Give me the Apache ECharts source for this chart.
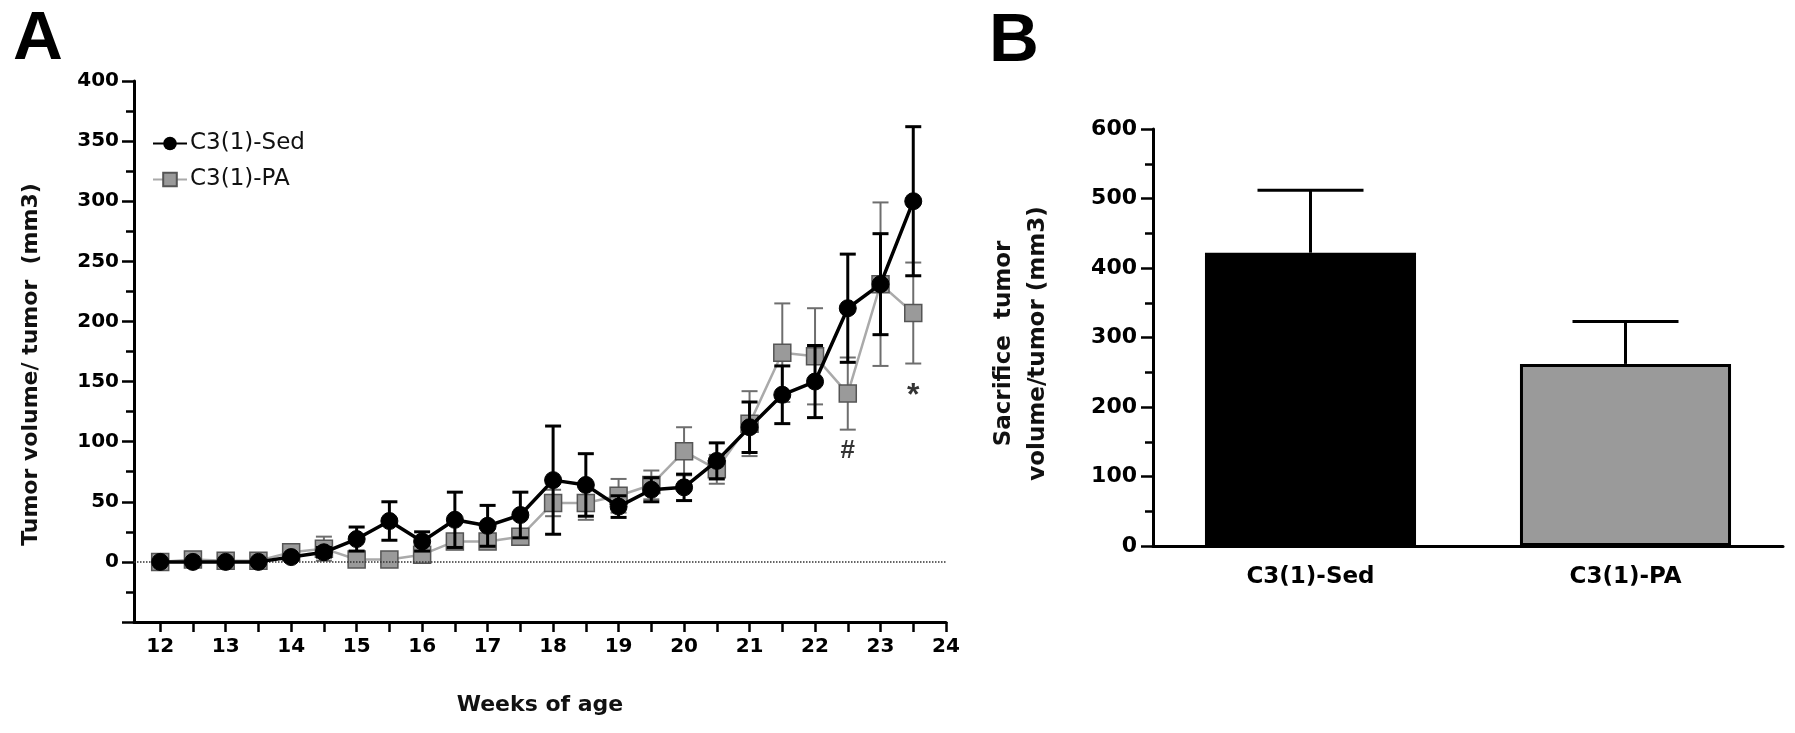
<!DOCTYPE html>
<html>
<head>
<meta charset="utf-8">
<script src="https://cdn.jsdelivr.net/npm/echarts@6/dist/echarts.min.js"></script>
<style>
html,body{margin:0;padding:0;background:#fff;}
#c{width:1795px;height:733px;}
</style>
</head>
<body>
<div id="c"></div>
<script>
// ---- Panel A data ----
var weeks = [12,12.5,13,13.5,14,14.5,15,15.5,16,16.5,17,17.5,18,18.5,19,19.5,20,20.5,21,21.5,22,22.5,23,23.5];
var sedMean = [0,0,0,0,4,8,19,34,17,35,30,39,68,64,46,60,62,84,112,139,150,211,231,300];
var sedSem  = [0,0,0,0,2,4,10,16,8,23,17,19,45,26,9,10,11,15,21,24,30,45,42,62];
var paMean  = [0,2,1,1,8,11,2,2,6,17,17,21,49,49,55,64,92,77,115,174,171,140,231,207];
var paSem   = [0,0,0,0,3,10,0,0,2,5,5,5,11,14,14,12,20,12,27,41,40,30,68,42];
var annWeeks = [22.5, 23.5];
var annVals  = [92, 138];
var annText  = ['#', '*'];
var xTicksA = [12,12.5,13,13.5,14,14.5,15,15.5,16,16.5,17,17.5,18,18.5,19,19.5,20,20.5,21,21.5,22,22.5,23,23.5,24];
var xLabelsA = [12,13,14,15,16,17,18,19,20,21,22,23,24];
// ---- Panel B data ----
var groupsB = ['C3(1)-Sed','C3(1)-PA'];
var barMean = [422, 262];
var barSem  = [90, 61];

var TXT = '"DejaVu Sans", "Liberation Sans", Arial, sans-serif';
var LET = '"Liberation Sans", Arial, sans-serif';

function pairs(xs, ys){ return xs.map(function(x,i){ return [x, ys[i]]; }); }
function triples(xs, ys, es){ return xs.map(function(x,i){ return [x, ys[i], es[i]]; }); }

function errRender(color, width, hw){
  return function(params, api){
    var x = api.value(0), y = api.value(1), e = api.value(2);
    if (!e) return null;
    var t = api.coord([x, y+e]), b = api.coord([x, y-e]);
    var st = {stroke: color, lineWidth: width};
    return {type:'group', children:[
      {type:'line', shape:{x1:t[0],y1:t[1],x2:b[0],y2:b[1]}, style:st},
      {type:'line', shape:{x1:t[0]-hw,y1:t[1],x2:t[0]+hw,y2:t[1]}, style:st},
      {type:'line', shape:{x1:b[0]-hw,y1:b[1],x2:b[0]+hw,y2:b[1]}, style:st}
    ]};
  };
}

var chart = echarts.init(document.getElementById('c'), null, {renderer:'canvas'});
var option = {
  animation:false,
  backgroundColor:'#fff',
  graphic:[
    {type:'text', left:13, top:5, style:{text:'A', font:'bold 69px '+LET, fill:'#000'}},
    {type:'text', left:989, top:7, style:{text:'B', font:'bold 69px '+LET, fill:'#000'}}
  ],
  legend:{
    orient:'vertical', left:147, top:127, itemGap:13, itemWidth:34, itemHeight:17,
    data:['C3(1)-Sed','C3(1)-PA'],
    textStyle:{fontFamily:TXT, fontSize:23, color:'#111', padding:[0,0,0,-2]}
  },
  grid:[
    {left:134, top:81, width:812, height:541},
    {left:1153, top:129, width:630, height:417}
  ],
  xAxis:[
    {type:'value', gridIndex:0, min:11.6, max:24,
     name:'Weeks of age', nameLocation:'middle', nameGap:72,
     nameTextStyle:{fontFamily:TXT, fontWeight:'bold', fontSize:22, color:'#111'},
     axisLine:{onZero:false, lineStyle:{color:'#000', width:3}},
     axisTick:{customValues:xTicksA, length:10, lineStyle:{width:2.5, color:'#000'}},
     axisLabel:{customValues:xLabelsA, margin:15, fontFamily:TXT, fontWeight:'bold', fontSize:20, color:'#000'},
     splitLine:{show:false}},
    {type:'category', gridIndex:1, data:groupsB, boundaryGap:true,
     axisLine:{lineStyle:{color:'#000', width:3}},
     axisTick:{alignWithLabel:true, length:11, lineStyle:{width:2.5, color:'#000'}},
     axisLabel:{margin:20, fontFamily:TXT, fontWeight:'bold', fontSize:23, color:'#000'},
     splitLine:{show:false}}
  ],
  yAxis:[
    {type:'value', gridIndex:0, min:-50, max:400, interval:50,
     name:'Tumor volume/ tumor  (mm3)', nameLocation:'middle', nameGap:92, nameRotate:90,
     nameTextStyle:{fontFamily:TXT, fontWeight:'bold', fontSize:22, color:'#111', padding:[0,26,0,0]},
     axisLine:{show:true, lineStyle:{color:'#000', width:3}},
     axisTick:{show:true, length:12, lineStyle:{width:2.5, color:'#000'}},
     minorTick:{show:true, splitNumber:2, length:8, lineStyle:{width:2.5, color:'#000'}},
     axisLabel:{margin:15, fontFamily:TXT, fontWeight:'bold', fontSize:20, color:'#000',
       formatter:function(v){ return v < 0 ? '' : String(v); }},
     splitLine:{show:false}},
    {type:'value', gridIndex:1, min:0, max:600, interval:100,
     name:'Sacrifice  tumor\nvolume/tumor (mm3)', nameLocation:'middle', nameGap:98, nameRotate:90,
     nameTextStyle:{fontFamily:TXT, fontWeight:'bold', fontSize:23, color:'#111', lineHeight:34, align:'center', padding:[0,12,0,0]},
     axisLine:{show:true, lineStyle:{color:'#000', width:3}},
     axisTick:{show:true, length:12, lineStyle:{width:2.5, color:'#000'}},
     minorTick:{show:true, splitNumber:2, length:8, lineStyle:{width:2.5, color:'#000'}},
     axisLabel:{margin:16, fontFamily:TXT, fontWeight:'bold', fontSize:22, color:'#000'},
     splitLine:{show:false}}
  ],
  series:[
    {name:'PA err', type:'custom', xAxisIndex:0, yAxisIndex:0, z:2,
     renderItem:errRender('#6e6e6e', 2, 8), data:triples(weeks, paMean, paSem), silent:true},
    {name:'C3(1)-PA', type:'line', xAxisIndex:0, yAxisIndex:0, z:3,
     data:pairs(weeks, paMean), symbol:'rect', symbolSize:17,
     lineStyle:{color:'#aaaaaa', width:2.5},
     itemStyle:{color:'#9a9a9a', borderColor:'#555', borderWidth:1.5},
     markLine:{silent:true, symbol:'none', label:{show:false},
       lineStyle:{type:'dotted', color:'#333', width:1.5},
       data:[{yAxis:0}]}},
    {name:'Sed err', type:'custom', xAxisIndex:0, yAxisIndex:0, z:4,
     renderItem:errRender('#000', 3, 8), data:triples(weeks, sedMean, sedSem), silent:true},
    {name:'C3(1)-Sed', type:'line', xAxisIndex:0, yAxisIndex:0, z:5,
     data:pairs(weeks, sedMean), symbol:'circle', symbolSize:17,
     lineStyle:{color:'#000', width:3.5},
     itemStyle:{color:'#000', borderColor:'#000'}},
    {name:'ann', type:'scatter', xAxisIndex:0, yAxisIndex:0, z:6, symbolSize:1,
     itemStyle:{color:'rgba(0,0,0,0)'},
     data:annWeeks.map(function(w,i){ return {value:[w, annVals[i]], label:{formatter:annText[i], fontSize: i===1 ? 32 : 26}}; }),
     label:{show:true, position:'inside', fontFamily:LET, fontWeight:'bold', color:'#000'}},
    {name:'bars', type:'bar', xAxisIndex:1, yAxisIndex:1, barWidth:'67%', z:2,
     data:barMean.map(function(v,i){
       return {value:v, itemStyle: i===0 ? {color:'#000', borderColor:'#000', borderWidth:3}
                                         : {color:'#9a9a9a', borderColor:'#000', borderWidth:3}};
     })},
    {name:'bar err', type:'custom', xAxisIndex:1, yAxisIndex:1, z:1,
     data:barMean.map(function(v,i){ return [i, v, barSem[i]]; }),
     renderItem:function(params, api){
       var b = api.coord([api.value(0), api.value(1)]);
       var t = api.coord([api.value(0), api.value(1)+api.value(2)]);
       var st = {stroke:'#000', lineWidth:3};
       return {type:'group', children:[
         {type:'line', shape:{x1:t[0],y1:t[1],x2:b[0],y2:b[1]}, style:st},
         {type:'line', shape:{x1:t[0]-53,y1:t[1],x2:t[0]+53,y2:t[1]}, style:st}
       ]};
     }}
  ]
};
chart.setOption(option);
</script>
</body>
</html>
